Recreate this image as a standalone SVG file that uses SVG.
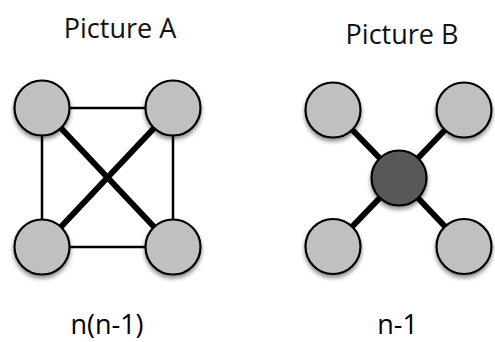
<svg xmlns="http://www.w3.org/2000/svg" width="495" height="342" viewBox="0 0 495 342">
  <defs>
    <filter id="shadow" x="-30%" y="-30%" width="160%" height="170%">
      <feDropShadow dx="0" dy="3" stdDeviation="2" flood-color="#000" flood-opacity="0.45"/>
    </filter>
  </defs>
  <style>
    .node { fill: #c0c0c0; stroke: #000; stroke-width: 2.2; filter: url(#shadow); }
    .hub { fill: #595959; stroke: #000; stroke-width: 2.2; filter: url(#shadow); }
    .thin { stroke: #000; stroke-width: 2.5; fill: none; }
    .thick { stroke: #000; stroke-width: 6; fill: none; }
    .label { font-family: "Open Sans", "Liberation Sans", sans-serif; font-size: 27px; fill: #111; text-anchor: middle; }
    .formula { font-family: "Open Sans", "Liberation Sans", sans-serif; font-size: 27px; fill: #000; text-anchor: middle; }
  </style>
  <rect width="495" height="342" fill="#fff"/>

  <text class="label" x="120" y="37.5">Picture A</text>
  <text class="label" x="402" y="43.5">Picture B</text>

  <g id="connectors">
    <line class="thin" x1="42" y1="108" x2="173" y2="108"/>
    <line class="thin" x1="42" y1="247" x2="173" y2="247"/>
    <line class="thin" x1="42" y1="108" x2="42" y2="247"/>
    <line class="thin" x1="173" y1="108" x2="173" y2="247"/>
    <line class="thick" x1="42" y1="108" x2="173" y2="247"/>
    <line class="thick" x1="173" y1="108" x2="42" y2="247"/>
    <line class="thick" x1="333" y1="110" x2="399" y2="178"/>
    <line class="thick" x1="464" y1="110" x2="399" y2="178"/>
    <line class="thick" x1="333" y1="246.5" x2="399" y2="178"/>
    <line class="thick" x1="464" y1="246.5" x2="399" y2="178"/>
  </g>

  <g id="a-top-left"><circle class="node" cx="42" cy="108" r="27.5"/></g>
  <g id="a-top-right"><circle class="node" cx="173" cy="108" r="27.5"/></g>
  <g id="a-bottom-left"><circle class="node" cx="42" cy="247" r="27.5"/></g>
  <g id="a-bottom-right"><circle class="node" cx="173" cy="247" r="27.5"/></g>

  <g id="b-top-left"><circle class="node" cx="333" cy="110" r="27.5"/></g>
  <g id="b-top-right"><circle class="node" cx="464" cy="110" r="27.5"/></g>
  <g id="b-bottom-left"><circle class="node" cx="333" cy="246.5" r="27.5"/></g>
  <g id="b-bottom-right"><circle class="node" cx="464" cy="246.5" r="27.5"/></g>
  <g id="b-hub"><circle class="hub" cx="399" cy="178" r="27.5"/></g>

  <text class="formula" x="107" y="334">n(n-1)</text>
  <text class="formula" x="397.5" y="334">n-1</text>
</svg>
